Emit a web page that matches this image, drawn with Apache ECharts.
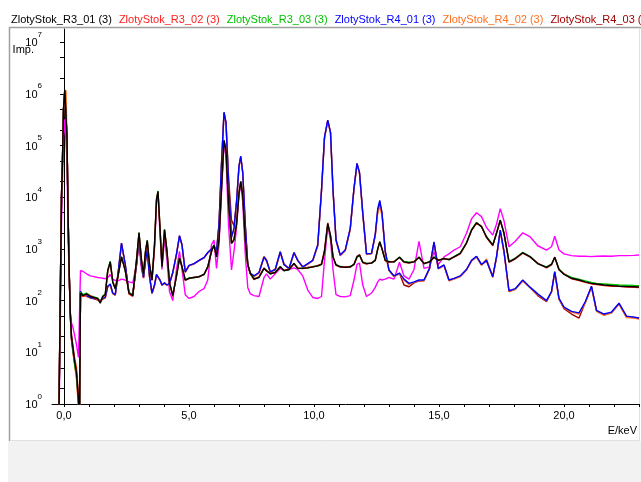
<!DOCTYPE html>
<html>
<head>
<meta charset="utf-8">
<script src="https://cdn.jsdelivr.net/npm/echarts@6/dist/echarts.min.js"></script>
<style>
html,body{margin:0;padding:0;background:#fff;}
#chart{width:641px;height:482px;}
</style>
</head>
<body>
<div id="chart"></div>
<script>
// Energy axis (keV)
const energy = [
 -0.30,-0.20,-0.15,-0.10,-0.06,-0.02,0.03,0.08,0.12,0.16,
 0.20,0.25,0.30,0.36,0.42,0.50,0.58,0.62,0.66,0.75,
 0.90,1.05,1.20,1.35,1.45,1.55,1.65,1.75,1.85,1.95,
 2.05,2.15,2.30,2.45,2.60,2.75,2.90,3.00,3.10,3.18,
 3.26,3.33,3.42,3.52,3.62,3.70,3.76,3.84,3.92,4.02,
 4.12,4.22,4.35,4.50,4.62,4.72,4.85,5.00,5.20,5.40,
 5.60,5.75,5.90,6.00,6.10,6.20,6.30,6.40,6.48,6.58,
 6.70,6.80,6.90,7.00,7.07,7.15,7.25,7.35,7.45,7.60,
 7.80,8.00,8.10,8.25,8.45,8.65,8.80,9.00,9.20,9.35,
 9.55,9.75,9.95,10.15,10.30,10.42,10.55,10.66,10.76,10.88,
 11.05,11.25,11.45,11.60,11.72,11.82,11.95,12.10,12.30,12.45,
 12.55,12.63,12.72,12.85,13.00,13.20,13.42,13.60,13.80,14.00,
 14.20,14.40,14.62,14.80,14.97,15.20,15.40,15.60,15.85,16.10,
 16.30,16.50,16.70,16.90,17.15,17.30,17.45,17.60,17.80,18.05,
 18.35,18.65,18.95,19.30,19.50,19.63,19.80,20.00,20.30,20.60,
 20.85,21.10,21.30,21.60,21.90,22.20,22.50,22.80,23.00
];

// Counts (Imp.)
const r3_01 = [
 0.3,0.8,100,1.0e4,5e4,5.2e5,1.2e6,1.25e6,1.45e5,5600,
 530,60,20,12,7,4,1.2,0.5,140,125,
 135,120,115,110,89,120,130,380,560,230,
 170,280,700,380,140,125,600,2050,600,330,
 900,1450,500,250,1200,9000,13000,2500,450,2350,
 900,220,125,300,660,450,250,270,280,290,
 320,450,900,1180,700,1500,15000,126000,80000,8000,
 1280,1500,3000,12000,20000,11000,1500,500,340,260,
 280,420,380,330,350,450,380,400,525,420,
 420,430,450,470,500,900,3100,1800,700,490,
 450,440,450,500,700,760,550,520,530,600,
 1000,1370,1000,600,560,560,690,560,540,560,
 690,520,560,690,600,650,620,700,820,1300,
 2300,3200,2700,1700,1180,2000,3600,2000,560,650,
 840,700,520,440,500,690,400,320,270,250,
 230,215,210,200,195,190,186,185,183
];
const r3_02 = [
 0.3,0.8,110,1.1e4,5.5e4,5e5,1.15e6,1.2e6,1.5e5,5800,
 520,58,22,13,8,5,1.5,0.5,135,120,
 130,125,112,105,95,118,128,370,550,235,
 175,290,690,390,135,120,620,2000,620,340,
 880,1400,520,245,1150,8800,12500,2600,460,2300,
 920,230,120,310,640,460,245,265,285,285,
 325,440,880,1150,720,1550,15500,124000,82000,8200,
 1300,1550,3100,12500,19500,10500,1550,490,330,255,
 290,430,370,340,345,440,385,410,510,430,
 415,440,445,480,510,950,3200,1750,720,480,
 445,450,440,510,720,780,540,510,540,590,
 980,1350,1020,590,550,570,680,550,530,570,
 680,530,550,680,610,640,630,690,800,1280,
 2250,3150,2750,1650,1150,2050,3500,2050,550,640,
 830,690,530,430,490,700,390,330,265,245,
 225,210,205,195,190,188,182,180,178
];
const r3_03 = [
 0.3,0.8,90,9e3,4.8e4,5e5,1.18e6,1.22e6,1.4e5,5400,
 510,62,19,11,6,3.5,1.1,0.5,145,130,
 140,125,118,112,92,122,135,390,580,225,
 168,275,710,375,145,128,590,2100,590,325,
 910,1480,490,255,1220,9200,13200,2450,440,2400,
 880,215,128,295,680,445,255,275,275,295,
 315,455,910,1200,690,1480,14800,125000,79000,7900,
 1270,1480,2950,11800,20500,11200,1480,505,345,265,
 285,415,385,325,355,455,375,395,530,415,
 425,425,455,465,495,880,3000,1820,690,500,
 455,445,455,495,690,750,560,525,525,610,
 1010,1380,990,610,570,555,700,570,550,555,
 700,515,570,700,595,660,615,710,830,1320,
 2350,3250,2650,1720,1200,1980,3650,1980,570,660,
 860,710,515,450,510,680,410,330,280,260,
 240,225,215,210,205,200,198,196,195
];
const r4_01 = [
 0.3,0.8,120,1.1e4,6e4,5e5,1.1e6,1.2e6,1.4e5,6000,
 500,55,18,11,7,4,1.2,0.5,150,130,
 125,115,110,105,100,110,115,190,210,140,
 130,300,1300,500,140,130,500,1600,500,280,
 600,950,300,140,200,320,340,250,200,220,
 200,215,350,800,1800,1200,360,480,520,600,
 680,850,1000,1150,900,3000,45000,440000,280000,20000,
 1700,2500,8000,40000,62000,30000,3000,500,340,300,
 350,700,600,360,400,880,500,420,850,600,
 450,520,600,1200,13700,145000,310000,180000,14000,1500,
 760,950,2500,15000,45000,30000,5000,800,820,1900,
 6000,8700,5000,900,390,300,340,260,215,230,
 250,250,420,1370,420,490,250,270,300,400,
 600,720,500,600,290,700,2300,900,155,170,
 250,180,135,100,150,365,110,75,62,58,
 95,190,65,55,60,89,50,48,46
];
const r4_02 = [
 0.3,0.8,115,1.05e4,5.8e4,4.8e5,1.05e6,1.15e6,1.35e5,5800,
 480,52,17,10,6,3,0.8,0.5,145,128,
 120,112,108,102,98,108,112,185,205,135,
 128,290,1250,480,135,125,480,1550,480,270,
 580,920,290,135,195,310,330,245,195,215,
 195,210,340,780,1750,1150,350,470,510,590,
 670,830,980,1120,880,2900,43000,420000,270000,19000,
 1650,2400,7800,39000,60000,29000,2900,490,330,290,
 340,720,620,350,410,860,520,410,820,610,
 440,500,590,1150,13000,140000,300000,175000,13500,1450,
 740,920,2400,14500,44000,29000,4800,780,800,1800,
 5000,6500,4500,850,380,290,330,250,205,225,
 245,240,410,1300,410,470,240,260,290,390,
 580,700,480,640,280,680,2200,870,150,165,
 240,175,130,97,145,350,105,72,60,55,
 90,180,62,52,58,85,47,46,44
];
const r4_03 = [
 0.3,0.8,110,1e4,5.5e4,4.9e5,1.08e6,1.18e6,1.38e5,5900,
 490,54,18,10,6.5,3.5,1,0.5,148,126,
 122,113,109,103,97,107,113,188,200,138,
 127,295,1280,490,138,128,490,1580,490,275,
 590,930,295,138,198,315,335,248,198,218,
 198,212,345,790,1780,1180,355,475,515,595,
 675,840,990,1130,890,2950,44000,430000,275000,25000,
 3600,2800,7900,39500,61000,29500,2950,495,335,295,
 345,690,590,355,395,870,495,415,840,595,
 445,510,595,1180,13500,142000,305000,178000,13800,1480,
 750,940,2450,14800,44500,29500,4900,790,810,1850,
 5500,7800,4800,880,385,295,335,200,185,220,
 240,245,415,1320,415,480,245,265,295,395,
 590,710,490,590,285,690,2250,880,150,165,
 245,178,125,95,148,360,108,70,55,46,
 92,185,63,53,58,87,48,47,45
];
const magentaSpectrum = [
 0.3,0.5,30,3000,2e4,1.5e5,3.2e5,3.0e5,5e4,2000,
 400,60,37,30,22,14,8,8,380,370,
 330,300,290,280,275,270,265,280,320,260,
 245,240,260,250,230,220,500,1200,400,280,
 700,1000,400,250,1000,8000,11000,2000,400,1600,
 600,150,100,400,900,400,130,110,120,150,
 170,250,1200,1480,420,1200,12000,110000,60000,3000,
 390,900,2500,11000,18000,8000,800,180,135,125,
 120,280,330,260,330,420,380,400,430,400,
 300,160,115,110,120,600,2800,1500,400,130,
 120,118,125,250,500,530,200,120,140,180,
 230,260,250,260,280,260,550,300,260,400,
 1400,420,450,880,500,700,800,950,1100,2000,
 3800,5000,4200,2600,1850,3000,6000,3500,1100,1400,
 2050,1700,1150,950,1100,1750,950,800,740,720,
 720,710,720,730,720,740,740,750,760
];

const legendNames = ['ZlotyStok_R3_01 (3)','ZlotyStok_R3_02 (3)','ZlotyStok_R3_03 (3)','ZlotyStok_R4_01 (3)','ZlotyStok_R4_02 (3)','ZlotyStok_R4_03 (3)'];
const legendColors = ['#000000','#ff2020','#00c000','#0000ff','#ff7020','#a00000'];
const xTickValues = [0,1,2,3,4,5,6,7,8,9,10,11,12,13,14,15,16,17,18,19,20,21,22,23];
const xLabelValues = [0,5,10,15,20];
const yLabelValues = [1,10,100,1e3,1e4,1e5,1e6,1e7];
const yTickValues = [1,2,5,10,20,50,100,200,500,1e3,2e3,5e3,1e4,2e4,5e4,1e5,2e5,5e5,1e6,2e6,5e6,1e7];

const pairs = vals => energy.map((e, i) => [e, vals[i]]);
// draw order: magenta first, then R4_03 .. R3_01 (black on top)
const seriesDefs = [
  {name: 'magenta', color: '#ff00ff', vals: magentaSpectrum},
  {name: legendNames[5], color: legendColors[5], vals: r4_03},
  {name: legendNames[4], color: legendColors[4], vals: r4_02},
  {name: legendNames[3], color: legendColors[3], vals: r4_01},
  {name: legendNames[2], color: legendColors[2], vals: r3_03},
  {name: legendNames[1], color: legendColors[1], vals: r3_02},
  {name: legendNames[0], color: legendColors[0], vals: r3_01}
];

const chart = echarts.init(document.getElementById('chart'), null, {renderer: 'canvas'});
const font = 'Liberation Sans, Arial, sans-serif';
chart.setOption({
  animation: false,
  backgroundColor: '#ffffff',
  textStyle: {fontFamily: font},
  graphic: [
    {type: 'rect', shape: {x: 8, y: 441, width: 633, height: 41}, style: {fill: '#f2f2f2'}, silent: true, z: -10},
    {type: 'polyline', shape: {points: [[9.5, 441], [9.5, 27.5], [641, 27.5]]}, style: {stroke: '#a0a0a0', lineWidth: 1.5, fill: null}, silent: true},
    {type: 'polyline', shape: {points: [[10, 440.5], [639.5, 440.5], [639.5, 28]]}, style: {stroke: '#e0e0e0', lineWidth: 1, fill: null}, silent: true}
  ],
  legend: {
    data: legendNames.map((n, i) => ({name: n, textStyle: {color: legendColors[i]}})),
    left: 6, top: 13, width: 1400, orient: 'horizontal',
    icon: 'none', itemWidth: 0, itemHeight: 14, itemGap: 2,
    padding: 0,
    textStyle: {fontSize: 11, fontFamily: font},
    selectedMode: false
  },
  grid: {left: 52, right: 2, top: 29, bottom: 78, containLabel: false},
  xAxis: {
    type: 'value', min: -0.48, max: 23,
    name: 'E/keV', nameLocation: 'end', nameGap: -2, nameMoveOverlap: false,
    nameTextStyle: {align: 'right', verticalAlign: 'top', padding: [21, 0, 0, 0], fontSize: 11, color: '#000', fontFamily: font},
    axisLine: {lineStyle: {color: '#000', width: 1}},
    axisTick: {show: true, length: 3, inside: false, customValues: xTickValues, lineStyle: {color: '#000'}},
    axisLabel: {customValues: xLabelValues, margin: 6, fontSize: 11, color: '#000', fontFamily: font,
      formatter: v => v.toFixed(1).replace('.', ',')},
    splitLine: {show: false}
  },
  yAxis: {
    type: 'log', logBase: 10, min: 1, max: 1.79e7,
    name: 'Imp.', nameLocation: 'end', nameGap: -21, nameMoveOverlap: false,
    nameTextStyle: {align: 'right', verticalAlign: 'middle', padding: [0, 30, 0, 0], fontSize: 11, color: '#000', fontFamily: font},
    axisLine: {show: true, lineStyle: {color: '#000', width: 1}},
    axisTick: {show: true, length: 4, inside: false, customValues: yTickValues, lineStyle: {color: '#000'}},
    axisLabel: {
      customValues: yLabelValues, margin: 10, color: '#000',
      padding: [0, 0, 5, 0],
      formatter: v => '{b|10}{s|' + Math.round(Math.log10(v)) + '}',
      rich: {
        b: {fontSize: 11, lineHeight: 18, verticalAlign: 'bottom', color: '#000', fontFamily: font},
        s: {fontSize: 8, lineHeight: 9, verticalAlign: 'top', color: '#000', fontFamily: font}
      }
    },
    splitLine: {show: false}
  },
  series: seriesDefs.map(d => ({
    type: 'line', name: d.name, data: pairs(d.vals),
    showSymbol: false, symbol: 'none', clip: true,
    lineStyle: {color: d.color, width: 1.4},
    itemStyle: {color: d.color},
    emphasis: {disabled: true}
  }))
});
</script>
</body>
</html>
